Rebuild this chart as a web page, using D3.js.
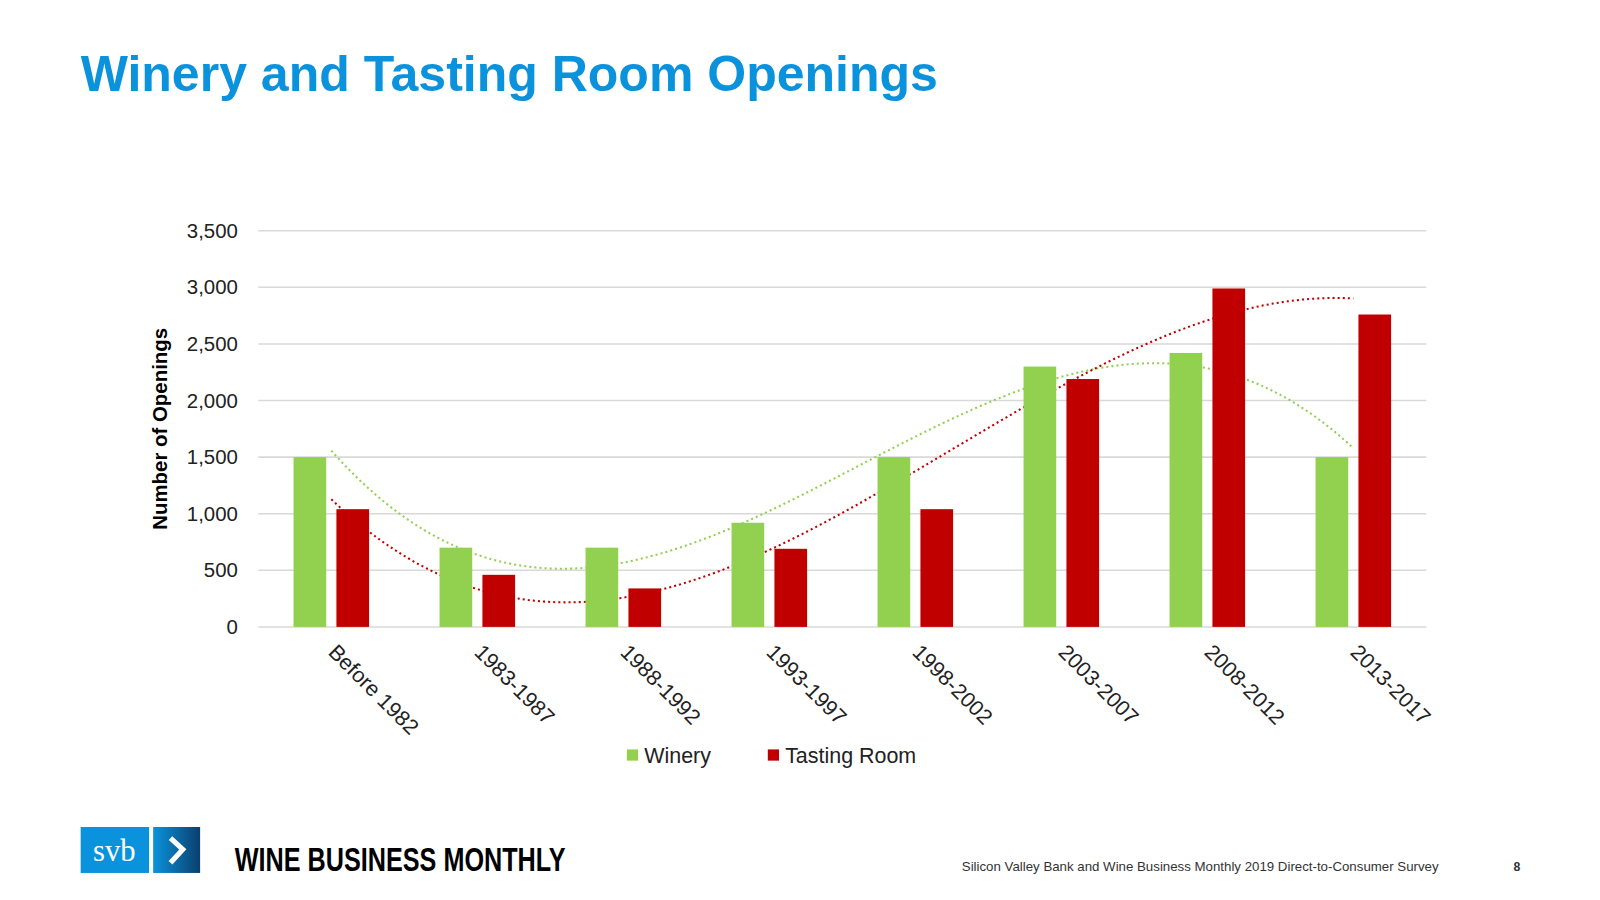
<!DOCTYPE html>
<html><head><meta charset="utf-8">
<script src="https://cdn.jsdelivr.net/npm/d3@7"></script>
<style>
body{margin:0;background:#fff;font-family:"Liberation Sans",Arial,sans-serif;}
</style></head>
<body><svg id="chart" width="1600" height="900"></svg>
<script>
const categories = ["Before 1982","1983-1987","1988-1992","1993-1997","1998-2002","2003-2007","2008-2012","2013-2017"];
const winery = [1500, 700, 700, 920, 1500, 2300, 2420, 1500];
const tasting = [1040, 460, 340, 690, 1040, 2190, 2990, 2760];
const yTicks = [0, 500, 1000, 1500, 2000, 2500, 3000, 3500];
const green = "#92d050", red = "#c00000";

// layout measured on a smaller copy, scaled up
const svg = d3.select("#chart").append("g").attr("transform", "scale(1.021)");
const margin = { top: 226, left: 253, right: 1397, bottom: 614 };

svg.append("text").attr("x", 79).attr("y", 89).attr("font-size", 49).attr("font-weight", "bold")
  .attr("fill", "#0a93dc").text("Winery and Tasting Room Openings");

const x = d3.scaleBand().domain(categories).range([margin.left, margin.right]);
const y = d3.scaleLinear().domain([0, 3500]).range([margin.bottom, margin.top]);

svg.append("g").selectAll("line").data(yTicks).join("line")
  .attr("x1", margin.left).attr("x2", margin.right)
  .attr("y1", d => y(d)).attr("y2", d => y(d))
  .attr("stroke", "#d9d9d9").attr("stroke-width", 1.5);

svg.append("g").selectAll("text").data(yTicks).join("text")
  .attr("x", 233).attr("y", d => y(d) + 7).attr("text-anchor", "end")
  .attr("font-size", 20).attr("fill", "#222").text(d => d3.format(",")(d));

svg.append("text").attr("transform", `translate(164,${(margin.top + margin.bottom) / 2}) rotate(-90)`)
  .attr("text-anchor", "middle").attr("font-size", 20).attr("font-weight", "bold").text("Number of Openings");

// polynomial trendline (least squares)
function polyfit(ys, order) {
  const n = order + 1;
  const A = Array.from({ length: n }, () => new Array(n + 1).fill(0));
  ys.forEach((v, i) => {
    const xi = i + 1;
    for (let r = 0; r < n; r++) {
      for (let c = 0; c < n; c++) A[r][c] += Math.pow(xi, r + c);
      A[r][n] += v * Math.pow(xi, r);
    }
  });
  for (let i = 0; i < n; i++) {
    let p = i;
    for (let k = i + 1; k < n; k++) if (Math.abs(A[k][i]) > Math.abs(A[p][i])) p = k;
    [A[i], A[p]] = [A[p], A[i]];
    for (let k = i + 1; k < n; k++) {
      const f = A[k][i] / A[i][i];
      for (let c = i; c <= n; c++) A[k][c] -= f * A[i][c];
    }
  }
  const co = new Array(n).fill(0);
  for (let i = n - 1; i >= 0; i--) {
    let s = A[i][n];
    for (let c = i + 1; c < n; c++) s -= A[i][c] * co[c];
    co[i] = s / A[i][i];
  }
  return t => co.reduce((a, c, k) => a + c * Math.pow(t, k), 0);
}
const bw = x.bandwidth();
const xc = t => x(categories[0]) + bw / 2 + (t - 1) * x.step();
function trend(vals, color) {
  const f = polyfit(vals, 3);
  const pts = d3.range(1, vals.length + 0.001, 0.05).map(t => [xc(t), y(f(t))]);
  svg.append("path").attr("d", d3.line()(pts)).attr("fill", "none")
    .attr("stroke", color).attr("stroke-width", 2).attr("stroke-dasharray", "2,3");
}
trend(winery, green);
trend(tasting, red);

const barW = 32;
const g = svg.append("g");
g.selectAll(".w").data(categories).join("rect")
  .attr("x", d => x(d) + bw / 2 - barW - 5).attr("width", barW)
  .attr("y", (d, i) => y(winery[i])).attr("height", (d, i) => y(0) - y(winery[i]))
  .attr("fill", green);
g.selectAll(".t").data(categories).join("rect")
  .attr("x", d => x(d) + bw / 2 + 5).attr("width", barW)
  .attr("y", (d, i) => y(tasting[i])).attr("height", (d, i) => y(0) - y(tasting[i]))
  .attr("fill", red);

svg.append("g").selectAll("text").data(categories).join("text")
  .attr("transform", d => `translate(${x(d) + bw / 2 - 4},${y(0) + 26}) rotate(45)`)
  .attr("font-size", 21).attr("fill", "#222").text(d => d);

const legend = [["Winery", green, 614], ["Tasting Room", red, 752]];
legend.forEach(([name, c, lx]) => {
  svg.append("rect").attr("x", lx).attr("y", 734).attr("width", 11).attr("height", 11).attr("fill", c);
  svg.append("text").attr("x", lx + 17).attr("y", 747).attr("font-size", 21).attr("fill", "#222").text(name);
});

// footer
svg.append("rect").attr("x", 79).attr("y", 810).attr("width", 67).attr("height", 45).attr("fill", "#0a93dc");
svg.append("text").attr("x", 112).attr("y", 843).attr("text-anchor", "middle").attr("font-size", 30)
  .attr("font-family", "Liberation Serif,serif").attr("fill", "#fff").text("svb");
const grad = svg.append("defs").append("linearGradient").attr("id", "gr");
grad.append("stop").attr("offset", 0).attr("stop-color", "#0a93dc");
grad.append("stop").attr("offset", 1).attr("stop-color", "#0b3f6e");
svg.append("rect").attr("x", 150).attr("y", 810).attr("width", 46).attr("height", 45).attr("fill", "url(#gr)");
svg.append("path").attr("d", "M167,821 L179,832 L167,845").attr("fill", "none").attr("stroke", "#fff").attr("stroke-width", 5);
svg.append("text").attr("x", 230).attr("y", 853).attr("font-size", 32).attr("font-weight", "bold")
  .attr("font-family", "Liberation Sans Narrow,Liberation Sans,sans-serif").attr("textLength", 324)
  .attr("lengthAdjust", "spacingAndGlyphs").attr("fill", "#000").text("WINE BUSINESS MONTHLY");
svg.append("text").attr("x", 1409).attr("y", 853).attr("text-anchor", "end").attr("font-size", 13).attr("fill", "#333")
  .text("Silicon Valley Bank and Wine Business Monthly 2019 Direct-to-Consumer Survey");
svg.append("text").attr("x", 1489).attr("y", 853).attr("text-anchor", "end").attr("font-size", 12).attr("font-weight", "bold").attr("fill", "#333").text("8");
</script></body></html>
